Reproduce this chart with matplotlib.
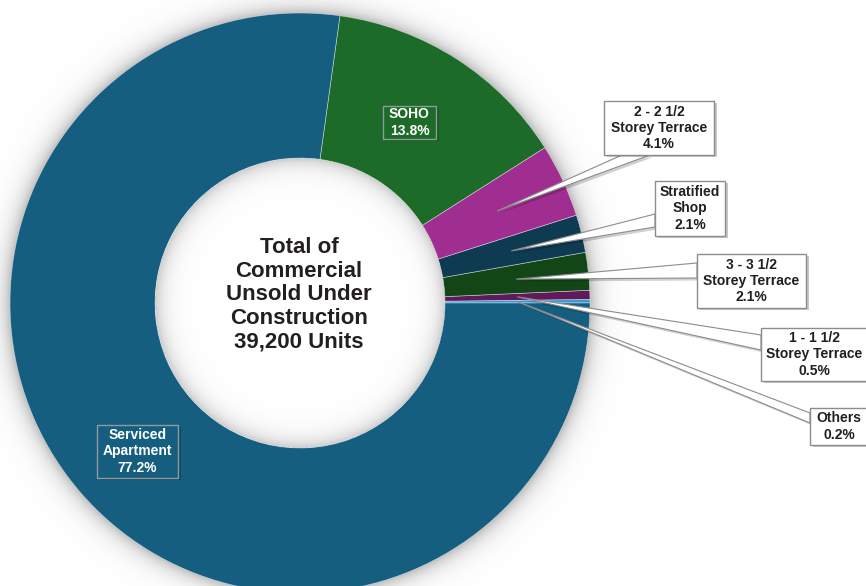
import matplotlib.pyplot as plt
import numpy as np
from matplotlib.patches import Rectangle, Polygon

plt.rcParams['font.family'] = ['Liberation Sans', 'DejaVu Sans']

# slices, counter-clockwise from 3 o'clock
categories = ['Others', '1 - 1 1/2\nStorey Terrace', '3 - 3 1/2\nStorey Terrace',
              'Stratified\nShop', '2 - 2 1/2\nStorey Terrace', 'SOHO', 'Serviced\nApartment']
shares = [0.2, 0.5, 2.1, 2.1, 4.1, 13.8, 77.2]
colors = ['#3a9bd4', '#5e1a5a', '#124616', '#0e3b52', '#a02d90', '#1c6b28', '#165e7f']
total_units = 39200

W, H = 866, 586
CX, CY, R = 300, 303, 290  # donut centre and radius in pixels


def px(x, y):
    # pixel position -> data coordinates (1 unit = outer radius)
    return ((x - CX) / R, (CY - y) / R)


fig = plt.figure(figsize=(W / 100, H / 100), dpi=100)
ax = fig.add_axes([0, 0, 1, 1])

wedges, _ = ax.pie(shares, colors=colors, startangle=0, counterclock=True, radius=1,
                   wedgeprops=dict(width=0.5, edgecolor=(1, 1, 1, 0.5), linewidth=0.5))

x0, y1 = px(0, 0)
x1, y0 = px(W, H)

# soft shadow round the ring and inside the hole
xs = np.linspace(x0, x1, W)
ys = np.linspace(y1, y0, H)
gx, gy = np.meshgrid(xs, ys)
rr = np.hypot(gx, gy)
alpha = np.where(rr > 1, 0.48 * np.exp(-(rr - 1) / 0.032), 0.0)
alpha += np.where(rr < 0.5, 0.36 * np.exp(-(0.5 - rr) / 0.032), 0.0)
img = np.zeros((H, W, 4))
img[..., :3] = 0.45
img[..., 3] = alpha
ax.imshow(img, extent=(x0, x1, y0, y1), origin='upper', zorder=0, interpolation='bilinear')

ax.set_xlim(x0, x1)
ax.set_ylim(y0, y1)
ax.set_aspect('equal')
ax.axis('off')


def mid_angle(i):
    start = sum(shares[:i]) / 100 * 360
    return np.deg2rad(start + shares[i] / 100 * 360 / 2)


def label_box(box, fc, ec, zorder=5):
    bx0, by0 = px(box[0], box[3])
    bx1, by1 = px(box[2], box[1])
    sh = 2.5 / R
    ax.add_patch(Rectangle((bx0 + sh, by0 - sh), bx1 - bx0, by1 - by0,
                           fc=(0, 0, 0, 0.22), ec='none', zorder=zorder - 0.1))
    ax.add_patch(Rectangle((bx0, by0), bx1 - bx0, by1 - by0,
                           fc=fc, ec=ec, lw=1.0, zorder=zorder))
    return (bx0 + bx1) / 2, (by0 + by1) / 2


# labels sitting on the ring
inside = {5: (383, 106, 436, 139), 6: (97, 425, 178, 478)}
for i, box in inside.items():
    cx, cy = label_box(box, colors[i], '#8f9a9c')
    ax.text(cx, cy, f'{categories[i]}\n{shares[i]:.1f}%', ha='center', va='center',
            color='white', fontsize=10, fontweight='bold', linespacing=1.2, zorder=6)

# callout labels to the right: box and the two base points of the pointer
outside = {
    4: ((604, 101, 714, 155), [(622, 155), (650, 155)]),
    3: ((655, 181, 725, 236), [(655, 214), (655, 227)]),
    2: ((697, 254, 806, 308), [(697, 263), (697, 278)]),
    1: ((761, 328, 872, 381), [(761, 335), (761, 350)]),
    0: ((810, 408, 872, 445), [(810, 413), (810, 423)]),
}
for i, (box, base) in outside.items():
    a = mid_angle(i)
    tip = (0.75 * np.cos(a), 0.75 * np.sin(a))
    pts = [tip, px(*base[0]), px(*base[1])]
    sh = 2.5 / R
    ax.add_patch(Polygon([(p[0] + sh, p[1] - sh) for p in pts], closed=True,
                         fc=(0, 0, 0, 0.18), ec='none', zorder=3))
    ax.add_patch(Polygon(pts, closed=True, fc='white', ec='#8c8c8c', lw=0.8, zorder=4))
    cx, cy = label_box(box, 'white', '#8c8c8c')
    if box[2] > W:
        cx = px((box[0] + W) / 2 + 1, 0)[0]
    ax.text(cx, cy, f'{categories[i]}\n{shares[i]:.1f}%', ha='center', va='center',
            color='#231f20', fontsize=10, fontweight='bold', linespacing=1.22, zorder=6)

# centre title
tx, ty = px(299, 295)
ax.text(tx, ty, f'Total of\nCommercial\nUnsold Under\nConstruction\n{total_units:,} Units',
        ha='center', va='center', color='#231f20', fontsize=16, fontweight='bold',
        linespacing=1.17, zorder=6)

fig.savefig('out.png', dpi=100)
